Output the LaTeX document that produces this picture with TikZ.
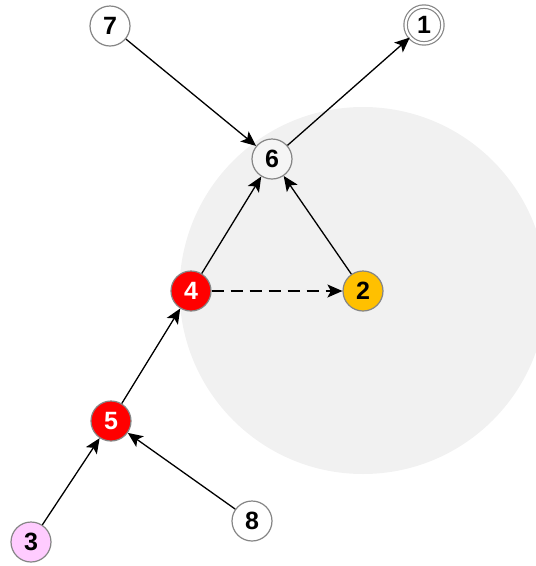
\documentclass[tikz,border=0pt]{standalone}
\usepackage{fontspec}
\setmainfont{Liberation Sans}
\usetikzlibrary{arrows.meta}

\definecolor{zonegray}{HTML}{F1F1F1}
\definecolor{ringgray}{HTML}{858585}
\definecolor{hotred}{HTML}{FF0000}
\definecolor{amber}{HTML}{FFC000}
\definecolor{lilac}{HTML}{FFCCFF}
\definecolor{softgray}{HTML}{F5F5F5}

\tikzset{
	vertex/.style={circle,draw=ringgray,line width=1.2pt,fill=white,minimum size=40pt,inner sep=0pt,font=\fontsize{25}{25}\selectfont\bfseries},
	final/.style={vertex,double=white,double distance=2.2pt,minimum size=36.8pt},
	edge/.style={line width=1.3pt,-{Stealth[length=15pt,width=13pt,inset=3.5pt]}},
}

\begin{document}
\begin{tikzpicture}[x=1pt,y=-1pt]
		\clip (0,0) rectangle (536,566);
		\fill[zonegray] (363,290.5) circle (183.5pt);

		\node[vertex] (n7) at (110,26) {7};
		\node[final] (n1) at (424,25) {1};
		\node[vertex,fill=softgray] (n6) at (272,159) {6};
		\node[vertex,fill=hotred,text=white] (n4) at (191,291) {4};
		\node[vertex,fill=amber] (n2) at (363,291) {2};
		\node[vertex,fill=hotred,text=white] (n5) at (111,421) {5};
		\node[vertex,fill=lilac] (n3) at (31,542) {3};
		\node[vertex] (n8) at (252,521) {8};

		\draw[edge] (n7) -- (n6);
		\draw[edge] (n6) -- (n1);
		\draw[edge] (n4) -- (n6);
		\draw[edge] (n2) -- (n6);
		\draw[edge,dash pattern=on 12pt off 7pt] (n4) -- (n2);
		\draw[edge] (n5) -- (n4);
		\draw[edge] (n3) -- (n5);
		\draw[edge] (n8) -- (n5);
	\end{tikzpicture}
\end{document}
